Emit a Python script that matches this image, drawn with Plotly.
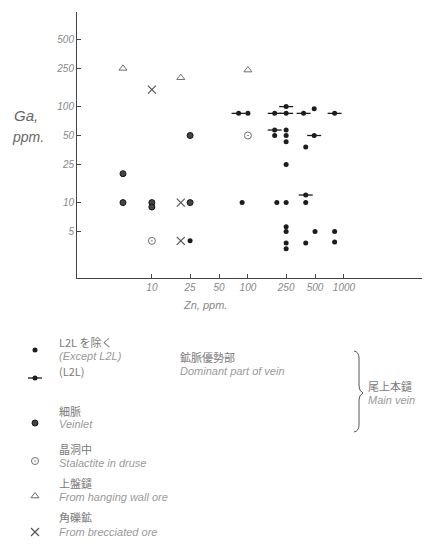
import math
import plotly.graph_objects as go

# ---- data: Zn (ppm) vs Ga (ppm) ----
except_l2l_zn = [25, 100, 490, 250, 190, 250, 250, 400, 250, 87, 200, 250, 400, 250, 250, 500, 800, 250, 400, 800, 250]
except_l2l_ga = [4, 85, 95, 57, 50, 50, 43, 38, 25, 10, 10, 10, 10, 5.6, 5, 5, 5, 3.8, 3.8, 3.9, 3.3]

l2l_zn = [80, 190, 250, 250, 380, 800, 190, 490, 400]
l2l_ga = [85, 85, 85, 100, 85, 85, 57, 50, 12]

veinlet_zn = [25, 5, 5, 10, 10, 25]
veinlet_ga = [50, 20, 10, 10, 9, 10]

druse_zn = [100, 10]
druse_ga = [50, 4]

hanging_zn = [5, 20, 100]
hanging_ga = [250, 200, 240]

breccia_zn = [10, 20, 20]
breccia_ga = [150, 10, 4]

x_ticks = [10, 25, 50, 100, 250, 500, 1000]
y_ticks = [5, 10, 25, 50, 100, 250, 500]

# ---- figure geometry (pixels) ----
W, H = 435, 559
L, R, T, B = 77, 422, 12, 278

INK = "#1c1c1c"
GREY = "#6e6e6e"
TXT_JP = "#7a7a7a"
TXT_EN = "#9a9a9a"
TICK_FONT = dict(family="Liberation Sans", size=10, color="#888", style="italic")

fig = go.Figure()

def dots(x, y, xa="x", ya="y", size=5):
    return go.Scatter(x=x, y=y, mode="markers", xaxis=xa, yaxis=ya, cliponaxis=False,
                      marker=dict(symbol="circle", size=size, color=INK, line=dict(width=0)),
                      showlegend=False, hoverinfo="skip")

def bars(x, y, xa="x", ya="y"):
    return go.Scatter(x=x, y=y, mode="markers", xaxis=xa, yaxis=ya, cliponaxis=False,
                      marker=dict(symbol="line-ew-open", size=10, color=INK, line=dict(width=1.3, color=INK)),
                      showlegend=False, hoverinfo="skip")

def veinlets(x, y, xa="x", ya="y"):
    return go.Scatter(x=x, y=y, mode="markers", xaxis=xa, yaxis=ya, cliponaxis=False,
                      marker=dict(symbol="circle", size=6, color="#444", line=dict(width=1, color="#151515")),
                      showlegend=False, hoverinfo="skip")

def druses(x, y, xa="x", ya="y"):
    return go.Scatter(x=x, y=y, mode="markers", xaxis=xa, yaxis=ya, cliponaxis=False,
                      marker=dict(symbol="circle-open-dot", size=7, color=GREY, line=dict(width=1, color=GREY)),
                      showlegend=False, hoverinfo="skip")

def triangles(x, y, xa="x", ya="y"):
    return go.Scatter(x=x, y=y, mode="markers", xaxis=xa, yaxis=ya, cliponaxis=False,
                      marker=dict(symbol="triangle-up-open", size=7, color=GREY, line=dict(width=1, color=GREY)),
                      showlegend=False, hoverinfo="skip")

def crosses(x, y, xa="x", ya="y"):
    return go.Scatter(x=x, y=y, mode="markers", xaxis=xa, yaxis=ya, cliponaxis=False,
                      marker=dict(symbol="x-thin-open", size=8, color="#555", line=dict(width=1.2, color="#555")),
                      showlegend=False, hoverinfo="skip")

# main plot marks
fig.add_trace(dots(except_l2l_zn, except_l2l_ga))
fig.add_trace(bars(l2l_zn, l2l_ga))
fig.add_trace(dots(l2l_zn, l2l_ga))
fig.add_trace(veinlets(veinlet_zn, veinlet_ga))
fig.add_trace(druses(druse_zn, druse_ga))
fig.add_trace(triangles(hanging_zn, hanging_ga))
fig.add_trace(crosses(breccia_zn, breccia_ga))

# ---- key below the plot, laid out on a pixel overlay ----
KX = 35
fig.add_trace(dots([KX], [350], "x2", "y2"))
fig.add_trace(bars([KX], [378], "x2", "y2"))
fig.add_trace(dots([KX], [378], "x2", "y2"))
fig.add_trace(veinlets([KX], [423], "x2", "y2"))
fig.add_trace(druses([KX], [461], "x2", "y2"))
fig.add_trace(triangles([KX], [496], "x2", "y2"))
fig.add_trace(crosses([KX], [532], "x2", "y2"))

key_text = [
    ("L2L を除く", 57, 342, "jp"),
    ("(Except L2L)", 57, 356, "en"),
    ("(L2L)", 57, 371, "jp"),
    ("鉱脈優勢部", 178, 357, "jp"),
    ("Dominant part of vein", 178, 371, "en"),
    ("尾上本鑓", 366, 386, "jp"),
    ("Main vein", 366, 400, "en"),
    ("細脈", 57, 411, "jp"),
    ("Veinlet", 57, 424, "en"),
    ("晶洞中", 57, 449, "jp"),
    ("Stalactite in druse", 57, 463, "en"),
    ("上盤鑓", 57, 483, "jp"),
    ("From hanging wall ore", 57, 497, "en"),
    ("角礫鉱", 57, 517, "jp"),
    ("From brecciated ore", 57, 532, "en"),
]
for txt, px, py, kind in key_text:
    if kind == "jp":
        font = dict(family="Noto Sans CJK JP", size=11, color=TXT_JP)
    else:
        font = dict(family="Liberation Sans", size=11, color=TXT_EN, style="italic")
    fig.add_annotation(x=px, y=py, xref="x2", yref="y2", text=txt, showarrow=False,
                       xanchor="left", yanchor="middle", font=font)

# axis titles
fig.add_annotation(x=12, y=115, xref="x2", yref="y2", text="Ga,", showarrow=False,
                   xanchor="left", yanchor="middle",
                   font=dict(family="Liberation Sans", size=15, color="#666", style="italic"))
fig.add_annotation(x=10, y=137, xref="x2", yref="y2", text="ppm.", showarrow=False,
                   xanchor="left", yanchor="middle",
                   font=dict(family="Liberation Sans", size=14, color="#666", style="italic"))
fig.add_annotation(x=205, y=305, xref="x2", yref="y2", text="Zn, ppm.", showarrow=False,
                   xanchor="center", yanchor="middle",
                   font=dict(family="Liberation Sans", size=11, color="#888", style="italic"))

# curly bracket grouping the vein entries
fig.add_shape(type="path", xref="x2", yref="y2",
              path="M 354 351 Q 359 352 359 358 L 359 386 Q 359 391 363 393 "
                   "Q 359 395 359 400 L 359 425 Q 359 431 354 432",
              line=dict(color="#555", width=1))

lx0, lx1 = math.log10(1.66), math.log10(6500)
ly0 = 0.215
ly1 = ly0 + (B - T) / ((R - L) / (lx1 - lx0))

fig.update_layout(
    width=W, height=H,
    margin=dict(l=0, r=0, t=0, b=0),
    paper_bgcolor="white", plot_bgcolor="rgba(0,0,0,0)",
    showlegend=False,
    xaxis=dict(type="log", domain=[L / W, R / W], range=[lx0, lx1], anchor="y",
               showline=True, linecolor="#444", linewidth=1, showgrid=False, zeroline=False,
               tickvals=x_ticks, ticktext=[str(v) for v in x_ticks],
               ticks="inside", ticklen=4, tickcolor="#444", tickfont=TICK_FONT),
    yaxis=dict(type="log", domain=[1 - B / H, 1 - T / H], range=[ly0, ly1], anchor="x",
               showline=True, linecolor="#444", linewidth=1, showgrid=False, zeroline=False,
               tickvals=y_ticks, ticktext=[str(v) for v in y_ticks],
               ticks="inside", ticklen=4, tickcolor="#444", tickfont=TICK_FONT),
    xaxis2=dict(domain=[0, 1], range=[0, W], anchor="y2", visible=False, fixedrange=True),
    yaxis2=dict(domain=[0, 1], range=[H, 0], anchor="x2", visible=False, fixedrange=True),
)

fig.write_html("out.html")
